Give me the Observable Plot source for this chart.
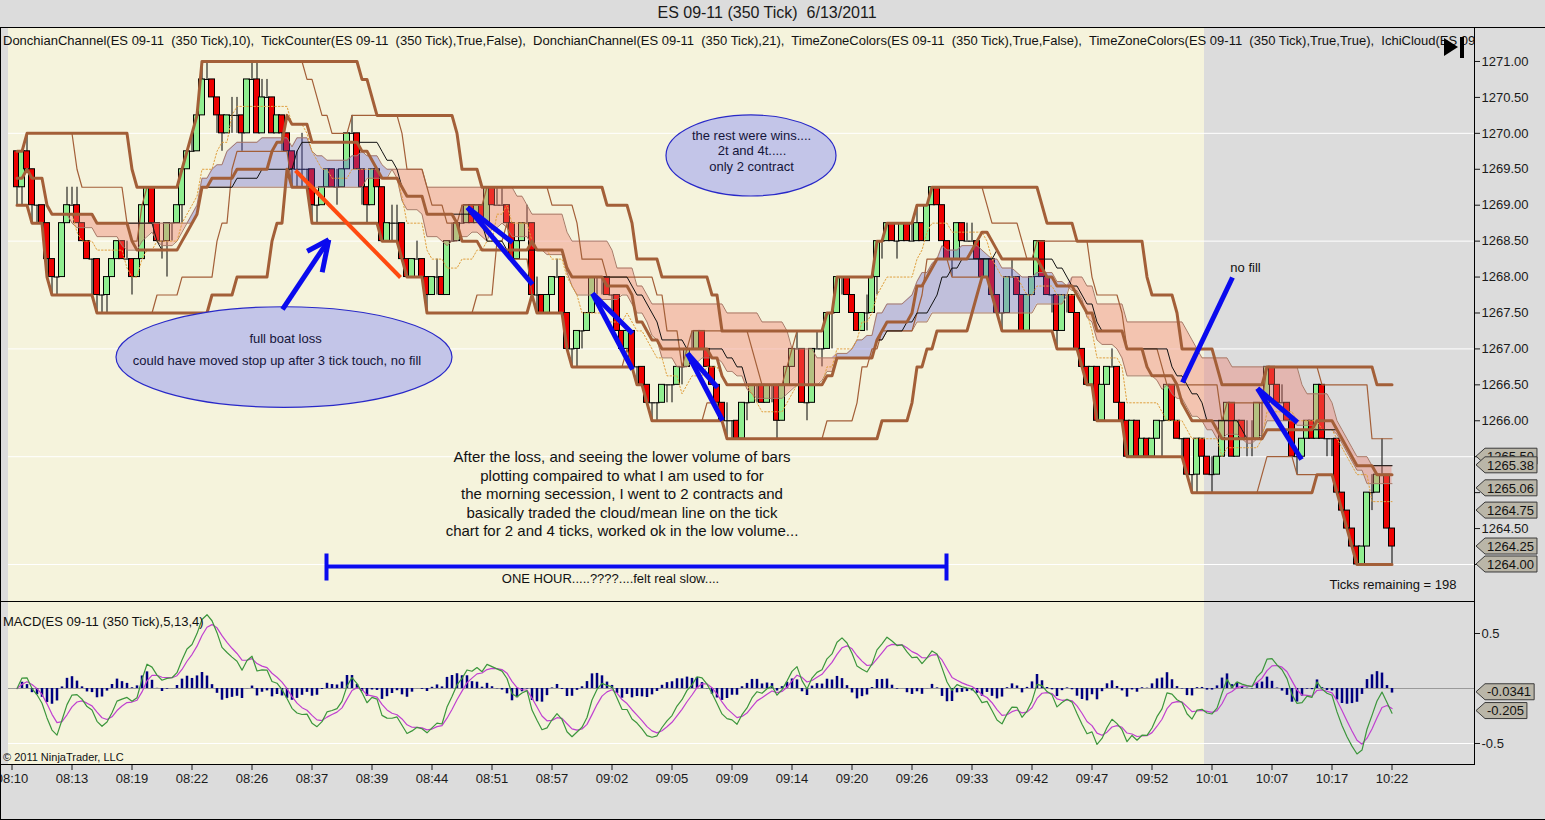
<!DOCTYPE html>
<html><head><meta charset="utf-8">
<script src="https://cdn.jsdelivr.net/npm/d3@7"></script>
<script src="https://cdn.jsdelivr.net/npm/@observablehq/plot@0.6"></script>
<style>
html,body{margin:0;padding:0;background:#dcdcdc;overflow:hidden;}
#root{position:relative;width:1545px;height:820px;font-family:"Liberation Sans",Arial,sans-serif;color:#111;overflow:hidden;}
.abs{position:absolute;}
.ln{position:absolute;background:#000;}
</style></head>
<body><div id="root">
<div class="abs" style="left:0;top:3px;width:1534px;text-align:center;font-size:16px;line-height:19px;white-space:pre;color:#1a1a1a;">ES 09-11 (350 Tick)  6/13/2011</div>
<div class="abs" id="pricebox" style="left:0;top:28px;width:1545px;height:573px;"></div>
<div class="abs" id="macdbox" style="left:0;top:602px;width:1545px;height:198px;"></div>
<div class="abs" style="left:3px;top:33px;width:1471px;overflow:hidden;white-space:pre;font-size:13px;line-height:15px;">DonchianChannel(ES 09-11  (350 Tick),10),  TickCounter(ES 09-11  (350 Tick),True,False),  DonchianChannel(ES 09-11  (350 Tick),21),  TimeZoneColors(ES 09-11  (350 Tick),True,False),  TimeZoneColors(ES 09-11  (350 Tick),True,True),  IchiCloud(ES 09-11  (350 Tick))</div>
<svg class="abs" style="left:1444px;top:37px;" width="22" height="21"><polygon points="0,1 14,10 0,19" fill="#000"/><rect x="16" y="0" width="4" height="21" fill="#000"/></svg>
<div class="abs" style="left:3px;top:614px;font-size:13px;white-space:pre;">MACD(ES 09-11 (350 Tick),5,13,4)</div>
<div class="abs" style="left:3px;top:751px;font-size:11px;white-space:pre;">© 2011 NinjaTrader, LLC</div>
<div class="ln" style="left:0;top:27px;width:1545px;height:1px;"></div>
<div class="ln" style="left:0;top:27px;width:1px;height:793px;"></div>
<div class="ln" style="left:0;top:819px;width:1545px;height:1px;"></div>
<div class="ln" style="left:1474px;top:27px;width:1px;height:738px;"></div>
<div class="ln" style="left:0;top:601px;width:1475px;height:1px;"></div>
<div class="ln" style="left:0;top:764px;width:1475px;height:1px;"></div>
</div>
<script>
// ---------- data (price in ticks of 0.25 above 1264.00) ----------
const basePrice = 1264, tickValue = 0.25;
const firstOpen = 23;
const closes = [
 21,23,22,20,20,19,17,16,16,19, 20,20,19,18,17,17,15,15,16,17,
 18,17,17,16,17,20,21,19,18,18, 19,19,20,22,23,23,25,27,27,26,
 25,24,25,25,25,24,27,27,24,26, 26,24,25,24,23,22,22,22,22,20,
 20,21,22,21,21,22,24,24,22,21, 20,22,21,18,19,19,19,17,16,17,
 17,16,15,16,16,15,18,18,19,19, 20,19,20,19,21,20,20,20,19,17,
 18,19,19,15,15,14,15,16,16,14, 12,12,13,13,14,16,16,16,15,15,
 13,12,13,11,11,10,9,9,9,10, 10,10,11,11,12,12,13,12,11,10,
 9,8,8,8,7,9,9,10,10,9, 10,10,8,10,11,12,12,9,9,12,
 12,12,14,14,16,16,15,14,13,14, 14,16,18,18,19,18,18,19,18,18,
 19,18,20,21,20,18,17,17,19,18, 18,18,17,16,17,15,14,14,16,16,
 15,13,15,16,18,16,15,15,13,15, 15,14,12,11,10,11,8,10,11,11,
 9,8,6,8,6,7,6,7,8,8, 10,8,7,7,5,5,7,6,5,5,
 6,8,9,6,8,7,7,7,9,9, 11,10,9,9,8,6,6,7,8,7,
 10,7,7,7,4,3,2,1,0,1, 4,4,5,5,2,1
];
const wickUp = [
 0,0,1,0,0,0,0,0,0,0, 1,1,1,0,0,0,0,0,0,0,
 0,0,1,0,0,0,0,0,0,0, 0,0,0,0,0,1,0,1,1,0,
 0,0,0,1,1,0,0,1,1,1, 1,0,0,0,0,0,1,2,0,0,
 0,0,0,0,1,0,0,1,0,0, 0,0,0,0,0,1,1,0,0,0,
 1,0,0,0,1,0,0,1,0,1, 0,0,0,0,0,0,1,1,0,0,
 0,0,1,0,1,0,0,0,1,0, 0,0,0,0,0,0,0,0,0,0,
 0,0,0,0,0,0,0,0,0,0, 0,0,0,0,0,1,0,0,0,0,
 0,0,1,0,0,0,0,0,0,0, 0,0,0,0,0,0,1,0,0,0,
 1,0,0,0,0,0,0,0,0,0, 1,0,0,0,0,0,0,0,0,1,
 1,0,0,0,0,0,0,0,0,0, 1,1,0,0,0,0,0,0,0,1,
 0,0,0,0,0,0,0,0,0,0, 0,0,0,0,0,0,0,0,0,1,
 0,0,0,0,0,0,0,0,0,0, 0,0,0,0,0,0,0,0,0,1,
 0,0,0,0,0,0,1,1,0,0, 0,0,0,1,0,0,0,0,0,0,
 0,0,0,0,0,0,0,0,0,0, 0,1,0,2,0,0
];
const wickDn = [
 1,1,0,1,1,0,1,1,1,0, 0,0,0,0,0,2,1,1,1,0,
 0,0,0,1,0,0,0,0,0,1, 2,1,0,1,0,0,0,0,0,0,
 1,1,0,1,1,1,0,0,0,0, 0,0,0,1,0,1,1,1,1,1,
 1,0,0,0,1,0,0,0,0,1, 1,0,0,0,0,1,1,0,0,0,
 0,0,1,0,1,0,0,0,0,0, 0,0,0,0,0,0,0,0,0,0,
 0,0,0,0,1,0,0,0,0,0, 0,1,1,1,0,0,1,1,0,1,
 0,0,0,0,1,0,0,1,1,0, 1,1,0,1,0,0,0,0,0,0,
 0,0,1,1,0,0,1,0,1,0, 0,1,1,0,0,0,0,0,1,0,
 0,1,0,2,0,1,0,0,0,0, 1,0,1,1,0,0,1,0,0,0,
 0,0,0,0,0,0,0,1,0,0, 0,0,0,0,0,0,0,1,0,0,
 0,0,0,0,0,0,0,1,1,0, 1,0,0,0,0,0,0,0,0,0,
 0,0,0,0,0,0,0,0,0,2, 0,0,0,1,0,1,1,0,0,1,
 0,0,0,0,0,0,1,1,0,2, 0,0,0,0,0,0,1,0,0,0,
 0,0,1,1,0,0,0,0,0,0, 0,1,0,0,0,1
];
const timeLabels = ["08:10","08:13","08:19","08:22","08:26","08:37","08:39","08:44","08:51","08:57","09:02","09:05",
 "09:09","09:14","09:20","09:26","09:33","09:42","09:47","09:52","10:01","10:07","10:17","10:22"];
const timeLabelBars = [-1,11,23,35,47,59,71,83,95,107,119,131,143,155,167,179,191,203,215,227,239,251,263,275];
const priceTicks = [1264,1264.5,1265,1265.5,1266,1266.5,1267,1267.5,1268,1268.5,1269,1269.5,1270,1270.5,1271];
const priceGrid = [1264,1265.5,1267,1268.5,1270];
const priceMarkers = [1265.50,1265.38,1265.06,1264.75,1264.25,1264.00];
const macdTicks = [0.5,-0.5];
const macdMarkers = [-0.0341,-0.205];
const zoneSplitBar = 237.5;

// annotations (bar index, price)
const blueSegs = [
 [53.1,1267.549,62.36,1268.519],[58.04,1268.360,62.36,1268.519],[61.04,1268.068,62.36,1268.519],
 [90.1,1268.968,99.1,1268.481],[90.1,1268.968,103.1,1267.897],
 [115.1,1267.771,123.1,1267.215],[115.1,1267.771,123.1,1266.714],
 [134.1,1266.936,140.1,1266.463],[134.1,1266.936,141.1,1266.004],
 [243.1,1267.994,233.1,1266.533],
 [248.1,1266.449,256.1,1265.976],[248.1,1266.449,256.9,1265.461]
];
const bracketSegs = [[61.9,1263.972,185.9,1263.972],[61.9,1264.153,61.9,1263.777],[185.9,1264.153,185.9,1263.777]];
const orangeSegs = [[55.7,1269.483,76.7,1267.994]];
const ellipses = [{i:53.5,p:1266.88,di:33.6,dp:0.70},{i:146.9,p:1269.685,di:17.0,dp:0.564}];
const ellipseTexts = [
 {i:53.7,p:1267.145,t:"full boat loss"},
 {i:52.0,p:1266.840,t:"could have moved stop up after 3 tick touch, no fill"},
 {i:146.9,p:1269.970,t:"the rest were wins...."},
 {i:147.0,p:1269.761,t:"2t and 4t....."},
 {i:146.9,p:1269.539,t:"only 2 contract"}
];
const noteLines = [
 {i:121.0,p:1265.493,t:"After the loss, and seeing the lower volume of bars"},
 {i:121.0,p:1265.225,t:"plotting compaired to what I am used to for"},
 {i:121.0,p:1264.974,t:"the morning secession, I went to 2 contracts and"},
 {i:121.0,p:1264.714,t:"basically traded the cloud/mean line on the tick"},
 {i:121.0,p:1264.463,t:"chart for 2 and 4 ticks, worked ok in the low volume..."}
];
const centerNotes = [
 {i:118.7,p:1263.805,t:"ONE HOUR.....????....felt real slow...."},
 {i:245.7,p:1268.133,t:"no fill"}
];
const endNotes = [{i:287.9,p:1263.722,t:"Ticks remaining = 198"}];

// ---------- derived ----------
const px = t => basePrice + t * tickValue;
const bars = closes.map((c, i) => {
  const o = i === 0 ? firstOpen : closes[i - 1];
  return {i, open: px(o), close: px(c), high: px(Math.max(o, c) + wickUp[i]), low: px(Math.min(o, c) - wickDn[i])};
});
const hh = (n, i) => d3.max(bars.slice(Math.max(0, i - n + 1), i + 1), d => d.high);
const ll = (n, i) => d3.min(bars.slice(Math.max(0, i - n + 1), i + 1), d => d.low);
const ind = bars.map((b, i) => {
  const d10u = hh(10, i), d10l = ll(10, i), d21u = hh(21, i), d21l = ll(21, i);
  const tenkan = (hh(9, i) + ll(9, i)) / 2, kijun = (hh(26, i) + ll(26, i)) / 2;
  const A = (tenkan + kijun) / 2, B = (hh(52, i) + ll(52, i)) / 2;
  return {i, d10u, d10l, d10m: (d10u + d10l) / 2, d21u, d21l, d21m: (d21u + d21l) / 2, kijun, A, B};
});
function ema(vals, n) { const k = 2 / (n + 1); const out = []; vals.forEach((v, i) => out.push(i === 0 ? v : out[i - 1] + k * (v - out[i - 1]))); return out; }
const cl = bars.map(b => b.close);
const e5 = ema(cl, 5), e13 = ema(cl, 13);
const macdV = e5.map((v, i) => v - e13[i]);
const sigV = ema(macdV, 4);
const macd = macdV.map((m, i) => ({i, macd: m, avg: sigV[i], diff: m - sigV[i]}));

const xLo = -1.7, xHi = 291.5;
const yLo = 1263.485, yHi = 1271.459;
const yellow = "#f5f3dc", gray = "#dcdcdc";
const sessions = [{from: xLo, to: zoneSplitBar, color: yellow}, {from: zoneSplitBar, to: xHi, color: gray}];
const segs = a => a.map(s => ({x1: s[0], y1: s[1], x2: s[2], y2: s[3]}));
const brown = "#a35f38";
const FONT = "Liberation Sans, Arial, sans-serif";

const textW = s => [...s].reduce((w, ch) => w + (ch === "." ? 3.6 : ch === "-" ? 4.4 : 7.23), 0);
function markerMark(vals, fmt) {
  return (index, scales, values, dims) => {
    const sy = scales.y;
    const x0 = dims.width - dims.marginRight;
    const g = d3.create("svg:g").attr("font-family", FONT).attr("font-size", 13).attr("text-anchor", "start");
    for (const v of vals) {
      const y = sy(v), label = fmt(v), w = textW(label);
      g.append("path").attr("d", `M${x0 + 2},${y}L${x0 + 11},${y - 8}H${x0 + 16 + w}V${y + 8}H${x0 + 11}Z`)
        .attr("fill", "#bab6a8").attr("stroke", "#3a3a3a");
      g.append("text").attr("x", x0 + 13).attr("y", y).attr("dy", "0.36em").attr("text-anchor", "start")
        .attr("fill", "#111").text(label);
    }
    return g.node();
  };
}
function ellipseMark(list) {
  return (index, scales) => {
    const sx = scales.x, sy = scales.y;
    const g = d3.create("svg:g");
    for (const e of list) {
      const cx = sx(e.i), cy = sy(e.p);
      g.append("ellipse").attr("cx", cx).attr("cy", cy)
        .attr("rx", Math.abs(sx(e.i + e.di) - cx)).attr("ry", Math.abs(sy(e.p + e.dp) - cy))
        .attr("fill", "#c3c5e8").attr("stroke", "#2828c8").attr("stroke-width", 1.2);
    }
    return g.node();
  };
}
// axis labels hidden behind a value marker
const hiddenBy = (markers, tol) => v => markers.some(m => Math.abs(m - v) < tol);
const priceHidden = hiddenBy(priceMarkers, 0.13);

const bodies = bars.filter(b => b.open !== b.close);
const dojis = bars.filter(b => b.open === b.close);

const priceChart = Plot.plot({
  width: 1545, height: 573,
  marginLeft: 8, marginRight: 71, marginTop: 0, marginBottom: 0,
  style: {background: gray, fontFamily: FONT, fontSize: "13px", color: "#1a1a1a", overflow: "hidden"},
  color: {type: "identity"},
  x: {domain: [xLo, xHi], axis: null},
  y: {domain: [yLo, yHi], axis: "right", ticks: priceTicks, tickFormat: d => priceHidden(d) ? "" : d.toFixed(2), tickSize: 5, tickPadding: 2, label: null},
  marks: [
    Plot.rect(sessions, {x1: "from", x2: "to", fill: "color"}),
    Plot.ruleY(priceGrid, {stroke: "#ffffff", strokeWidth: 1}),
    Plot.ruleX(bars, {x: "i", y1: "low", y2: "high", stroke: "#000", strokeWidth: 1}),
    Plot.rect(bodies, {x1: d => d.i - 0.6, x2: d => d.i + 0.6, y1: "open", y2: "close",
      fill: d => d.close > d.open ? "#90ee90" : "#ee0000", stroke: "#000", strokeWidth: 1}),
    Plot.ruleY(dojis, {y: "close", x1: d => d.i - 0.6, x2: d => d.i + 0.6, stroke: "#000", strokeWidth: 1}),
    Plot.areaY(ind, {x: "i", y1: "A", y2: d => Math.max(d.A, d.B), fill: "#f07a68", fillOpacity: 0.38}),
    Plot.areaY(ind, {x: "i", y1: "B", y2: d => Math.max(d.A, d.B), fill: "#5a5ad8", fillOpacity: 0.34}),
    Plot.line(ind, {x: "i", y: "A", stroke: "#a87a68", strokeWidth: 1}),
    Plot.line(ind, {x: "i", y: "B", stroke: "#a87a68", strokeWidth: 1}),
    Plot.line(ind, {x: "i", y: "d10u", stroke: brown, strokeWidth: 1.2}),
    Plot.line(ind, {x: "i", y: "d10l", stroke: brown, strokeWidth: 1.2}),
    Plot.line(ind, {x: "i", y: "d10m", stroke: "#e0a040", strokeWidth: 1, strokeDasharray: "1.5,2"}),
    Plot.line(ind, {x: "i", y: "kijun", stroke: "#111", strokeWidth: 1}),
    Plot.line(ind, {x: "i", y: "d21u", stroke: brown, strokeWidth: 3}),
    Plot.line(ind, {x: "i", y: "d21l", stroke: brown, strokeWidth: 3}),
    Plot.line(ind, {x: "i", y: "d21m", stroke: brown, strokeWidth: 3}),
    ellipseMark(ellipses),
    Plot.link(segs(orangeSegs), {x1: "x1", y1: "y1", x2: "x2", y2: "y2", stroke: "#ff4a10", strokeWidth: 4}),
    Plot.link(segs(blueSegs), {x1: "x1", y1: "y1", x2: "x2", y2: "y2", stroke: "#0a0aee", strokeWidth: 5}),
    Plot.link(segs(bracketSegs), {x1: "x1", y1: "y1", x2: "x2", y2: "y2", stroke: "#0a0aee", strokeWidth: 4}),
    Plot.text(ellipseTexts, {x: "i", y: "p", text: "t", fontSize: 13, fill: "#15153a", fontFamily: FONT}),
    Plot.text(noteLines, {x: "i", y: "p", text: "t", fontSize: 15, fill: "#111", fontFamily: FONT}),
    Plot.text(centerNotes, {x: "i", y: "p", text: "t", fontSize: 13, fill: "#111", fontFamily: FONT}),
    Plot.text(endNotes, {x: "i", y: "p", text: "t", textAnchor: "end", fontSize: 13, fill: "#111", fontFamily: FONT}),
    markerMark(priceMarkers, v => v.toFixed(2))
  ]
});
document.getElementById("pricebox").appendChild(priceChart);

const macdChart = Plot.plot({
  width: 1545, height: 198,
  marginLeft: 8, marginRight: 71, marginTop: 0, marginBottom: 36,
  style: {background: gray, fontFamily: FONT, fontSize: "13px", color: "#1a1a1a", overflow: "hidden"},
  color: {type: "identity"},
  x: {domain: [xLo, xHi], ticks: timeLabelBars, tickFormat: d => timeLabels[timeLabelBars.indexOf(d)], tickSize: 6, tickPadding: 3, label: null},
  y: {domain: [-0.691, 0.782], axis: "right", ticks: macdTicks, tickFormat: d => String(d), tickSize: 5, tickPadding: 2, label: null},
  marks: [
    Plot.rect(sessions, {x1: "from", x2: "to", fill: "color"}),
    Plot.ruleY([-0.5], {stroke: "#ffffff"}),
    Plot.ruleY([0], {stroke: "#9a9a9a"}),
    Plot.ruleX(macd, {x: "i", y1: 0, y2: "diff", stroke: "#000080", strokeWidth: 2.5}),
    Plot.line(macd, {x: "i", y: "avg", stroke: "#c040d0", strokeWidth: 1.2}),
    Plot.line(macd, {x: "i", y: "macd", stroke: "#3c963c", strokeWidth: 1.2}),
    markerMark(macdMarkers, v => String(v))
  ]
});
document.getElementById("macdbox").appendChild(macdChart);
</script>
</body></html>
